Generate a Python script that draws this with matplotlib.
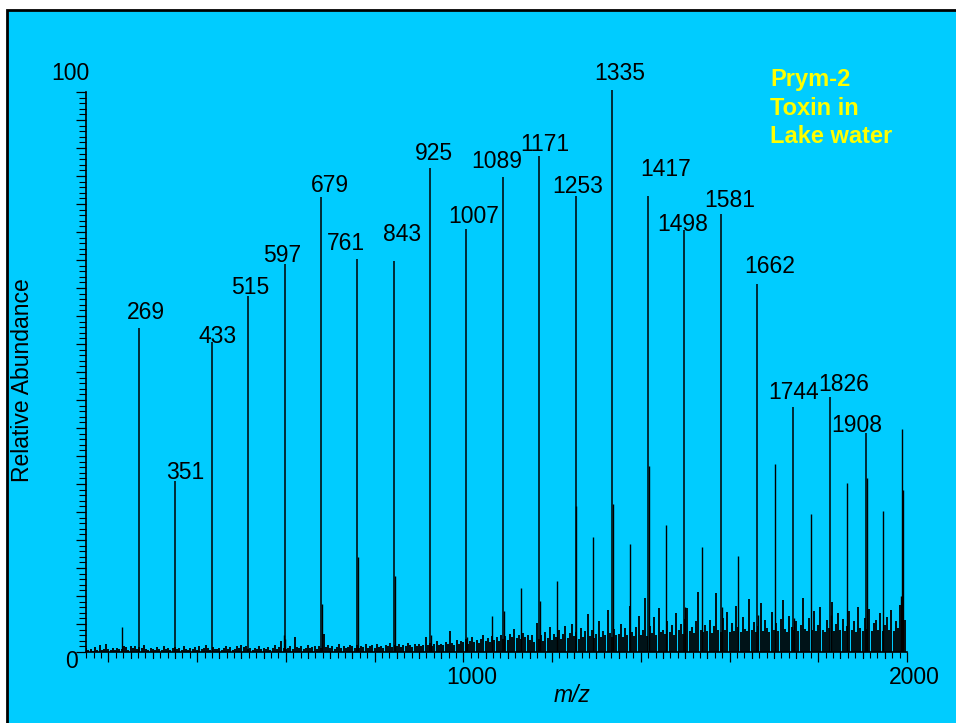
"""
Prym-2 toxin in lake water - ESI mass spectrum, redrawn.
"""
import numpy as np
import matplotlib
matplotlib.use('Agg')
import matplotlib.pyplot as plt
import matplotlib.transforms as mtransforms
from matplotlib.patches import Rectangle
from matplotlib.ticker import MultipleLocator, FixedLocator, NullFormatter

W, H = 956, 723
BG, INK, YELLOW = '#00CCFF', '#000000', '#FFFF00'
plt.rcParams['font.family'] = ['Liberation Sans', 'DejaVu Sans']

# ── data ─────────────────────────────────────────────────────────────────────
# labelled charge-state series
peak_mz  = [269, 351, 433, 515, 597, 679, 761, 843, 925, 1007, 1089,
            1171, 1253, 1335, 1417, 1498, 1581, 1662, 1744, 1826, 1908]
peak_int = [57.9, 30.5, 55.4, 63.6, 69.3, 81.3, 70.2, 69.8, 86.4, 75.5, 84.8,
            88.6, 81.4, 100.3, 81.4, 75.4, 78.2, 65.7, 43.8, 45.5, 39.1]

# second (unlabelled) series
minor_mz  = [230, 1065, 1131, 1212, 1293, 1375, 1457, 1539, 1620,
             1702, 1784, 1865, 1947, 1989]
minor_int = [4.4, 6.4, 11.4, 12.7, 20.5, 19.3, 22.7, 18.8, 17.1,
             33.6, 24.6, 30.2, 25.2, 39.8]

# shoulders right next to the main peaks
sat_mz  = [595, 599, 681, 763, 845, 927, 1009, 1091, 1173, 1255, 1337,
           1419, 1500, 1583, 1664, 1746, 1828, 1910, 1987, 1991]
sat_int = [3.0, 2.3, 8.6, 17.0, 13.6, 3.0, 2.7, 7.4, 9.1, 26.0, 26.4,
           33.2, 8.0, 8.0, 6.6, 6.0, 6.6, 31.0, 10.0, 29.0]

# chemical noise, one value per 5 m/z from 150 to 1995
noise_150  = [0.8, 0.3, 0.6, 0.2, 0.9, 0.4, 1.2, 0.3, 0.5, 1.4, 0.6, 0.4, 0.7, 0.3, 0.8, 0.5, 0.6, 1.1, 0.9, 0.4]
noise_250  = [1.0, 0.8, 1.1, 0.6, 0.9, 0.7, 1.2, 0.5, 0.4, 0.8, 0.6, 0.3, 0.9, 0.5, 0.4, 1.0, 0.6, 0.8, 0.3, 0.7]
noise_350  = [0.9, 0.5, 0.8, 0.4, 1.1, 0.6, 0.3, 0.7, 0.5, 0.9, 0.4, 1.0, 0.6, 0.8, 1.3, 0.7, 0.4, 0.9, 0.5, 0.6]
noise_450  = [0.8, 0.4, 0.7, 1.0, 0.5, 0.9, 0.3, 0.6, 1.1, 0.7, 1.2, 0.9, 1.1, 0.5, 0.8, 0.4, 0.7, 0.6, 1.0, 0.5]
noise_550  = [0.7, 0.5, 0.9, 0.4, 0.8, 1.2, 0.6, 0.9, 1.9, 0.7, 0.5, 0.8, 1.0, 0.6, 2.7, 0.9, 0.7, 1.1, 0.5, 0.8]
noise_650  = [1.3, 0.7, 0.9, 1.1, 0.6, 1.0, 0.8, 3.2, 0.9, 1.2, 0.7, 1.0, 0.6, 0.9, 1.4, 0.8, 1.1, 0.7, 0.9, 1.2]
noise_750  = [1.0, 0.8, 1.3, 0.7, 1.1, 0.9, 1.5, 0.8, 1.0, 1.2, 0.7, 1.4, 0.9, 1.1, 0.8, 1.3, 1.0, 1.6, 0.9, 1.2]
noise_850  = [1.1, 1.4, 0.9, 1.3, 1.0, 1.6, 1.2, 0.9, 1.4, 1.1, 1.5, 1.0, 1.3, 2.7, 1.2, 1.6, 1.1, 1.4, 2.0, 1.3]
noise_950  = [1.5, 1.2, 1.8, 1.4, 3.7, 1.6, 1.3, 2.1, 1.5, 1.9, 1.7, 2.3, 1.4, 2.0, 2.6, 1.8, 2.2, 1.6, 2.4, 3.0]
noise_1050 = [2.0, 2.5, 1.8, 2.9, 2.2, 2.6, 2.0, 3.1, 2.4, 2.8, 2.2, 3.3, 2.6, 4.1, 2.5, 3.0, 2.3, 3.4, 2.7, 3.1]
noise_1150 = [2.2, 3.0, 1.8, 5.2, 2.4, 3.1, 2.0, 3.6, 2.5, 4.4, 2.1, 3.2, 2.6, 4.0, 2.3, 3.3, 4.6, 2.5, 3.4, 5.0]
noise_1250 = [2.8, 3.5, 2.4, 4.3, 2.6, 3.7, 6.8, 2.9, 3.9, 2.5, 3.3, 5.6, 2.7, 3.8, 3.0, 7.5, 3.4, 2.6, 4.1, 3.1]
noise_1350 = [3.3, 5.0, 2.7, 4.2, 3.0, 8.3, 3.5, 2.8, 4.5, 6.5, 3.1, 4.0, 9.6, 2.9, 4.6, 3.4, 6.2, 3.0, 7.8, 3.6]
noise_1450 = [4.0, 3.2, 5.5, 3.6, 4.8, 3.1, 7.0, 3.9, 5.0, 3.3, 5.9, 7.9, 3.7, 4.4, 3.4, 5.6, 10.7, 3.9, 3.5, 4.9]
noise_1550 = [3.7, 5.8, 3.4, 4.6, 10.6, 4.0, 3.6, 6.1, 3.9, 7.2, 3.5, 5.2, 3.8, 8.3, 4.4, 3.6, 6.3, 4.1, 3.7, 9.4]
noise_1650 = [4.0, 5.4, 3.6, 4.7, 8.8, 3.8, 5.7, 4.3, 3.5, 7.1, 3.9, 5.1, 3.7, 5.9, 9.2, 4.1, 3.6, 6.4, 4.4, 3.9]
noise_1750 = [5.6, 3.7, 4.9, 9.7, 4.1, 3.8, 6.0, 4.0, 7.4, 3.7, 4.8, 8.0, 3.9, 3.6, 5.7, 4.2, 8.9, 3.8, 5.0, 7.0]
noise_1850 = [4.0, 5.9, 3.7, 4.7, 7.3, 3.9, 5.6, 3.6, 8.1, 4.3, 3.8, 6.1, 4.1, 7.7, 3.7, 5.2, 5.8, 4.0, 7.0, 3.8]
noise_1950 = [4.9, 6.3, 3.9, 7.5, 3.7, 5.5, 4.2, 8.4, 6.5, 5.8]

noise_int = (noise_150 + noise_250 + noise_350 + noise_450 + noise_550 + noise_650
             + noise_750 + noise_850 + noise_950 + noise_1050 + noise_1150 + noise_1250
             + noise_1350 + noise_1450 + noise_1550 + noise_1650 + noise_1750
             + noise_1850 + noise_1950)
noise_mz = np.arange(150, 150 + 5 * len(noise_int), 5)

# label offsets from the peak top, in pixels (dx, dy)
label_off = [(7, 15), (10, 9), (6, 5), (2, 8), (-2, 8), (9, 11), (-11, 15),
             (8, 27), (4, 15), (7, 13), (-6, 16), (6, 11), (2, 10), (8, 17),
             (17, 27), (-2, 5), (9, 14), (13, 18), (0, 14), (14, 13), (-9, 8)]

# ── figure ───────────────────────────────────────────────────────────────────
fig = plt.figure(figsize=(W / 100, H / 100), dpi=100, facecolor='white')
fig.patches.append(Rectangle((7.3 / W, -0.1), 1.2, 1.1 - 10.5 / H,
                             transform=fig.transFigure, facecolor=BG,
                             edgecolor=INK, lw=2.0, zorder=-10))

ax = fig.add_axes([86.2 / W, 71 / H, 820.8 / W, 560 / H])
ax.set_facecolor('none')
ax.set_xlim(150, 2000)
ax.set_ylim(0, 100)

ax.vlines(noise_mz, 0, noise_int, color=INK, lw=1.3)
ax.vlines(sat_mz, 0, sat_int, color=INK, lw=1.0)
ax.vlines(minor_mz, 0, minor_int, color=INK, lw=1.0)
ax.vlines(peak_mz, 0, peak_int, color=INK, lw=1.1, clip_on=False)

for mz, h, (dx, dy) in zip(peak_mz, peak_int, label_off):
    ax.annotate(f'{mz}', xy=(mz, h), xytext=(dx, dy), textcoords='offset pixels',
                ha='center', va='center', fontsize=16.5, color=INK,
                annotation_clip=False)

# axes / ticks
for s in ['top', 'right']:
    ax.spines[s].set_visible(False)
for s in ['left', 'bottom']:
    ax.spines[s].set_linewidth(1.2)
    ax.spines[s].set_color(INK)

ax.xaxis.set_major_locator(MultipleLocator(200))
ax.xaxis.set_minor_locator(FixedLocator(np.arange(150, 2001, 50 / 3)))
ax.yaxis.set_major_locator(MultipleLocator(5))
ax.yaxis.set_minor_locator(MultipleLocator(1))
ax.xaxis.set_major_formatter(NullFormatter())
ax.yaxis.set_major_formatter(NullFormatter())
ax.tick_params(axis='both', which='major', direction='out', length=7.5, width=0.9, color=INK)
ax.tick_params(axis='both', which='minor', direction='out', length=4, width=0.8, color=INK)
ax.tick_params(axis='y', which='minor', length=5)

# medium ticks every 50 on m/z axis
tr = mtransforms.blended_transform_factory(ax.transData, ax.transAxes)
for m in range(200, 2000, 50):
    if m % 200:
        ax.plot([m, m], [0, -5.5 / 560], color=INK, lw=0.8, transform=tr, clip_on=False)

def ftext(x, y, s, **kw):
    fig.text(x / W, 1 - y / H, s, **kw)

ftext(70.5, 73, '100', ha='center', va='center', fontsize=16.5)
ftext(71, 661, '0', ha='center', va='center', fontsize=16.5)
ftext(472, 678, '1000', ha='center', va='center', fontsize=16.5)
ftext(914, 678, '2000', ha='center', va='center', fontsize=16.5)
ftext(572, 695, 'm/z', ha='center', va='center', fontsize=16.5, style='italic')
ftext(23, 380, 'Relative Abundance', ha='center', va='center', fontsize=16.5, rotation=90)

for y, s in [(86, 'Prym-2'), (115, 'Toxin in'), (143, 'Lake water')]:
    ftext(770, y, s, ha='left', va='baseline', fontsize=17, fontweight='bold', color=YELLOW)

fig.savefig('out.png', dpi=100, facecolor='white')
